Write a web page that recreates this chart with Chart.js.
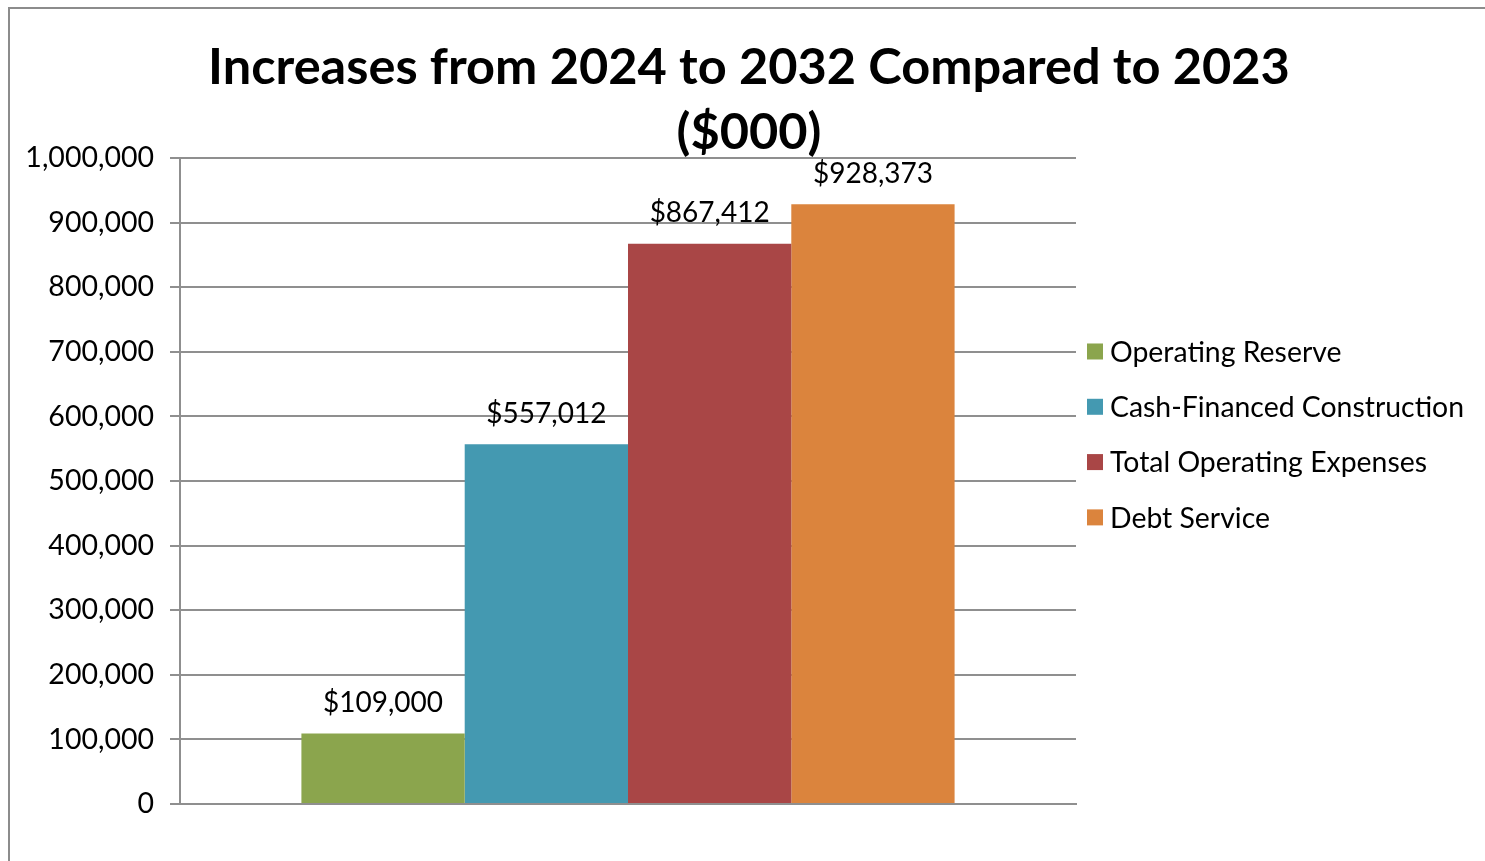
<!DOCTYPE html>
<html><head><meta charset="utf-8">
<script src="https://cdn.jsdelivr.net/npm/chart.js@4/dist/chart.umd.min.js"></script>
<style>
html,body{margin:0;padding:0;background:#fff;overflow:hidden;width:1485px;height:861px;}
#frame{position:absolute;left:8px;top:7px;width:1500px;height:880px;border:2px solid #8c8c8c;box-sizing:border-box;}
#c{position:absolute;left:0;top:0;}
</style></head><body>
<div id="frame"><canvas id="c" width="1478" height="860"></canvas></div>
<script>
const titleLines = ['Increases from 2024 to 2032 Compared to 2023', '($000)'];
const categories = [''];
const seriesNames = ['Operating Reserve', 'Cash-Financed Construction', 'Total Operating Expenses', 'Debt Service'];
const seriesValues = [[109000], [557012], [867412], [928373]];
const seriesColors = ['#8BA54D', '#4499B1', '#A94646', '#DB843D'];
const yMin = 0, yMax = 1000000, yStep = 100000;

const FONT = 'Lato';
const GRID = '#8f8f8f';

const fmt = v => v.toLocaleString('en-US');

const legendPlugin = {
  id: 'sideLegend',
  beforeInit(chart) {
    const box = {
      position: 'right', weight: 1000, fullSize: false,
      options: { stackWeight: 1 },
      left: 0, top: 0, right: 0, bottom: 0, width: 0, height: 0,
      isHorizontal() { return false; },
      update(maxWidth, maxHeight) { this.width = 412; this.height = maxHeight; },
      draw() {
        const ctx = chart.ctx;
        ctx.save();
        ctx.font = '28.4px ' + FONT;
        ctx.textBaseline = 'middle';
        ctx.textAlign = 'left';
        chart.data.datasets.forEach((ds, i) => {
          const y = chart.chartArea.top + 193.5 + i * 55.3;
          ctx.fillStyle = ds.backgroundColor;
          ctx.fillRect(this.left + 11, y - 8, 16, 16);
          ctx.fillStyle = '#000';
          ctx.fillText(ds.label, this.left + 34, y + 1);
        });
        ctx.restore();
      }
    };
    Chart.layouts.addBox(chart, box);
  }
};

const valueLabels = {
  id: 'valueLabels',
  afterDatasetsDraw(chart) {
    const ctx = chart.ctx;
    ctx.save();
    ctx.font = '28px ' + FONT;
    ctx.fillStyle = '#000';
    ctx.textAlign = 'center';
    ctx.textBaseline = 'middle';
    chart.data.datasets.forEach((ds, i) => {
      const meta = chart.getDatasetMeta(i);
      meta.data.forEach((bar, j) => {
        ctx.fillText('$' + fmt(ds.data[j]), bar.x, bar.y - 30.5);
      });
    });
    ctx.restore();
  }
};

new Chart(document.getElementById('c'), {
  type: 'bar',
  data: {
    labels: categories,
    datasets: seriesNames.map((n, i) => ({
      label: n,
      data: seriesValues[i],
      backgroundColor: seriesColors[i],
      borderWidth: 0,
      categoryPercentage: 0.729,
      barPercentage: 1.0
    }))
  },
  options: {
    responsive: false,
    animation: false,
    devicePixelRatio: 1,
    layout: { padding: { top: 0, left: 0, right: 0, bottom: 65 } },
    plugins: {
      legend: { display: false },
      tooltip: { enabled: false },
      title: {
        display: true,
        text: titleLines,
        color: '#000',
        font: { family: FONT, size: 50.5, weight: 'bold', lineHeight: 1.287 },
        padding: { top: 26.5, bottom: -7.5 }
      }
    },
    scales: {
      x: {
        ticks: { display: false },
        grid: { display: false, drawTicks: false },
        border: { display: true, color: GRID, width: 2 }
      },
      y: {
        min: yMin, max: yMax,
        afterFit(scale) { scale.width = 170; },
        ticks: {
          stepSize: yStep,
          color: '#000',
          padding: 16,
          font: { family: FONT, size: 28.5 },
          callback: v => fmt(v)
        },
        grid: { color: GRID, lineWidth: 2, tickLength: 10, tickColor: GRID, drawTicks: true },
        border: { display: true, color: GRID, width: 2 }
      }
    }
  },
  plugins: [legendPlugin, valueLabels]
});
</script>
</body></html>
